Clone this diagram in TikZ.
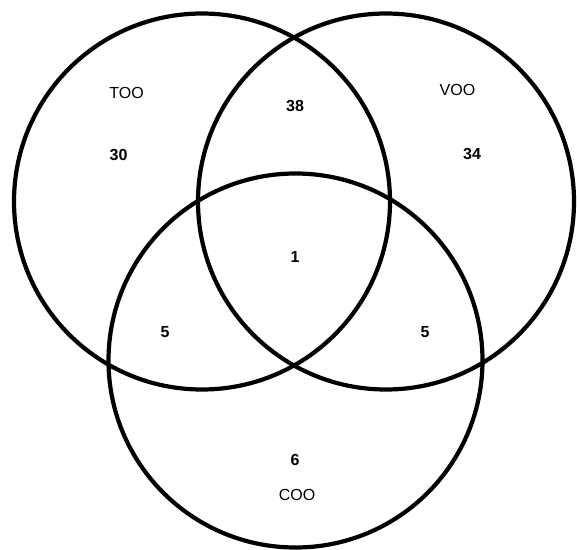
\documentclass[tikz,border=0pt]{standalone}
\usepackage{fontspec}
\setmainfont{Liberation Sans}
\begin{document}
\begin{tikzpicture}[x=1pt,y=-1pt,
  ring/.style={draw=black,line width=4.2pt},
  setname/.style={font=\fontsize{16}{19}\selectfont,inner sep=0pt},
  count/.style={font=\fontsize{16}{19}\selectfont\bfseries,inner sep=0pt}]
\useasboundingbox[fill=white] (0,0) rectangle (577,549);
\coordinate (cT) at (202,201.5);
\coordinate (cV) at (386,201.5);
\coordinate (cC) at (295.5,360.5);
\draw[ring] (cT) circle[radius=188];
\draw[ring] (cV) circle[radius=188];
\draw[ring] (cC) circle[radius=187];
\node[setname] (too) at (126.5,92.5) {TOO};
\node[setname] (voo) at (457.5,90) {VOO};
\node[setname] (coo) at (297,495) {COO};
\node[count] (n30) at (118.5,155) {30};
\node[count] (n38) at (295,106) {38};
\node[count] (n34) at (472,154) {34};
\node[count] (n1) at (295,257) {1};
\node[count] (n5l) at (165,332) {5};
\node[count] (n5r) at (425,332) {5};
\node[count] (n6) at (295,460) {6};
\end{tikzpicture}
\end{document}
